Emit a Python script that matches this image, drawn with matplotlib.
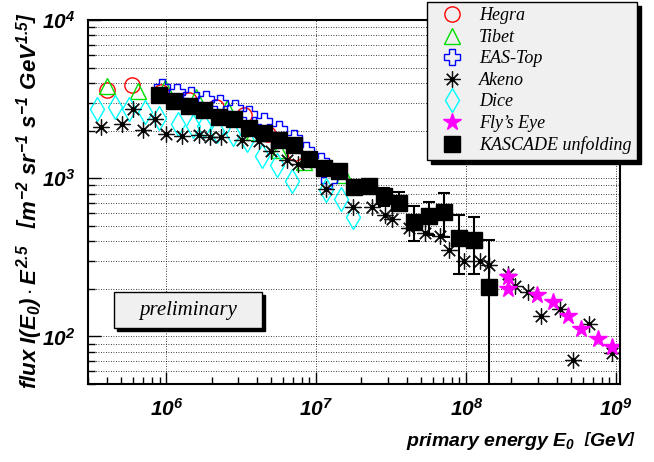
import matplotlib
matplotlib.use("Agg")
import matplotlib.pyplot as plt
from matplotlib.patches import Rectangle
from matplotlib.legend_handler import HandlerTuple
from matplotlib.ticker import LogLocator, NullFormatter

plt.rcParams['font.family'] = ['Liberation Sans', 'DejaVu Sans']
plt.rcParams['mathtext.fontset'] = 'custom'
plt.rcParams['mathtext.rm'] = 'Liberation Sans:italic:bold'
plt.rcParams['mathtext.it'] = 'Liberation Sans:italic:bold'
plt.rcParams['mathtext.bf'] = 'Liberation Sans:italic:bold'

# KASCADE unfolding
kas_e = [8.9e5, 1.12e6, 1.41e6, 1.78e6, 2.24e6, 2.82e6, 3.55e6, 4.47e6, 5.62e6, 7.08e6,
         8.91e6, 1.12e7, 1.41e7, 1.78e7, 2.24e7, 2.82e7, 3.55e7, 4.47e7, 5.62e7, 7.08e7,
         8.91e7, 1.12e8, 1.41e8]
kas_f = [3365, 3055, 2878, 2704, 2453, 2371, 2071, 1943, 1747, 1625,
         1319, 1157, 1117, 885, 894, 773, 701, 531, 580, 615,
         417, 406, 206]
kas_lo = [0, 0, 0, 0, 0, 0, 0, 0, 0, 0, 0, 0, 0, 0, 0, 105, 71, 128, 143, 189, 169, 158, 205.9]
kas_hi = [0, 0, 0, 0, 0, 0, 0, 0, 0, 0, 0, 0, 0, 0, 0, 99, 121, 137, 125, 196, 169, 159, 200]

# Akeno
ake_e = [3.69e5, 5.02e5, 6.00e5, 7.03e5, 8.39e5, 1.0e6, 1.28e6, 1.66e6, 1.96e6, 2.31e6,
         3.20e6, 4.16e6, 4.97e6, 6.38e6, 7.55e6, 1.155e7, 1.75e7, 2.34e7, 2.86e7, 3.18e7,
         4.18e7, 5.29e7, 6.73e7, 7.70e7, 9.61e7, 1.24e8, 1.42e8, 1.89e8, 2.12e8, 2.57e8,
         3.16e8, 4.20e8, 5.18e8, 6.59e8, 9.42e8]
ake_f = [2112, 2197, 2734, 2022, 2357, 1893, 1839, 1866, 1818, 1818,
         1747, 1730, 1489, 1306, 1232, 855, 661, 661, 586, 553,
         483, 449, 430, 352, 300, 300, 281, 248, 209, 190,
         134, 150, 70.8, 120, 78]

# Fly's Eye
fly_e = [1.89e8, 1.89e8, 2.95e8, 3.78e8, 4.75e8, 5.83e8, 7.52e8, 9.42e8]
fly_f = [236, 198, 183, 166, 134, 112, 95.7, 85.2]

# Dice
dice_e = [3.47e5, 4.51e5, 5.67e5, 7.25e5, 8.91e5, 1.20e6, 1.50e6, 1.79e6, 2.17e6, 2.76e6,
          3.47e6, 4.33e6, 5.50e6, 6.84e6, 1.16e7, 1.47e7, 1.75e7]
dice_f = [2754, 2806, 2757, 2620, 2397, 2216, 2134, 2143, 2001, 1907,
          1747, 1378, 1214, 961, 839, 740, 567]

# EAS-Top
eas_e = [9.41e5, 1.18e6, 1.47e6, 1.85e6, 2.29e6, 2.88e6, 3.57e6, 4.49e6, 5.65e6, 7.11e6,
         8.54e6, 1.075e7, 1.215e7]
eas_f = [3783, 3517, 3367, 3176, 2997, 2786, 2553, 2305, 2051, 1799, 1511, 1287, 975]

# Hegra
heg_e = [3.99e5, 5.94e5, 9.26e5, 1.42e6, 2.15e6, 3.30e6, 4.77e6, 7.22e6]
heg_f = [3622, 3895, 3517, 3130, 2827, 2515, 1907, 1446]

# Tibet
tib_e = [3.99e5, 6.51e5, 9.85e5, 1.58e6, 2.55e6, 3.85e6, 5.65e6, 8.28e6, 1.53e7]
tib_f = [3838, 3568, 3727, 3269, 2786, 1963, 1511, 1268, 1049]

fig = plt.figure(figsize=(6.54, 4.62), dpi=100)
ax = fig.add_axes([88/654, 1-384/462, 532/654, 364/462])
ax.set_xscale('log')
ax.set_yscale('log')
ax.set_xlim(3.0e5, 1.06e9)
ax.set_ylim(50, 1e4)

h_heg, = ax.plot(heg_e, heg_f, ls='none', marker='o', ms=11, mfc='none', mec='#ff0000', mew=1)
h_tib, = ax.plot(tib_e, tib_f, ls='none', marker='^', ms=11, mfc='none', mec='#00dd00', mew=1)
h_eas, = ax.plot(eas_e, eas_f, ls='none', marker='P', ms=11, mfc='none', mec='#0000ff', mew=1)
h_dice, = ax.plot(dice_e, dice_f, ls='none', marker='d', ms=12, mfc='none', mec='#00ffff', mew=1)
h_ake, = ax.plot(ake_e, ake_f, ls='none', marker=(8, 2, 0), ms=11.5, mec='#111111', mew=0.9)
h_aked, = ax.plot(ake_e, ake_f, ls='none', marker='o', ms=2.5, mfc='black', mec='black')
h_fly, = ax.plot(fly_e, fly_f, ls='none', marker='*', ms=13, mfc='#ff00ff', mec='#ff00ff')
ax.errorbar(kas_e, kas_f, yerr=[kas_lo, kas_hi], fmt='none', ecolor='black', elinewidth=1.5,
            capsize=4, capthick=1.5, zorder=4)
h_kas, = ax.plot(kas_e, kas_f, ls='none', marker='s', ms=11, mfc='black', mec='black', zorder=5)

ax.set_xticks([1e6, 1e7, 1e8, 1e9], labels=[r'$10^{6}$', r'$10^{7}$', r'$10^{8}$', r'$10^{9}$'])
ax.set_yticks([1e2, 1e3, 1e4], labels=[r'$10^{2}$', r'$10^{3}$', r'$10^{4}$'])
ax.xaxis.set_minor_locator(LogLocator(base=10, subs=range(2, 10)))
ax.yaxis.set_minor_locator(LogLocator(base=10, subs=range(2, 10)))
ax.xaxis.set_minor_formatter(NullFormatter())
ax.yaxis.set_minor_formatter(NullFormatter())
ax.tick_params(which='both', direction='in', top=False, right=False, width=1)
ax.tick_params(which='major', length=9, labelsize=15)
ax.tick_params(which='minor', length=5)
ax.tick_params(axis='x', which='major', pad=10)
ax.tick_params(axis='y', which='major', pad=9)

ax.set_axisbelow(True)
ax.yaxis.grid(True, which='both', ls=(0, (1, 2)), color='black', lw=0.6)
ax.xaxis.grid(True, which='major', ls=(0, (1, 2)), color='black', lw=0.6)
for sp in ax.spines.values():
    sp.set_linewidth(1.5)

fig.text(30/654, 1-200/462,
         r'flux $I(E_0)\cdot E^{2.5}$   $\left[m^{-2}\ sr^{-1}\ s^{-1}\ GeV^{1.5}\right]$',
         rotation=90, ha='center', va='center', fontsize=16, fontweight='bold', fontstyle='italic')
fig.text(636/654, 1-441/462, r'primary energy $E_0$  $\left[GeV\right]$',
         ha='right', va='center', fontsize=14, fontweight='bold', fontstyle='italic')

leg = ax.legend([h_heg, h_tib, h_eas, (h_ake, h_aked), h_dice, h_fly, h_kas],
                ['Hegra', 'Tibet', 'EAS-Top', 'Akeno', 'Dice', "Fly\u2019s Eye", 'KASCADE unfolding'],
                handler_map={tuple: HandlerTuple(ndivide=1)},
                loc='upper right', bbox_to_anchor=(637/654, 1-2/462), bbox_transform=fig.transFigure,
                prop={'family': 'Liberation Serif', 'style': 'italic', 'size': 13},
                fancybox=False, framealpha=1, facecolor='#f0f0f0', edgecolor='black',
                borderpad=0.3, labelspacing=0.25, handlelength=2.2, handletextpad=0.4,
                borderaxespad=0, shadow={'ox': 3, 'oy': -3, 'facecolor': 'black',
                                         'edgecolor': 'black', 'alpha': 1})
leg.get_frame().set_linewidth(1)
leg.set_zorder(10)

# preliminary box
fig.patches.append(Rectangle((117/654, 1-331/462), 148/654, 36/462, transform=fig.transFigure,
                             facecolor='black', edgecolor='black', zorder=20))
fig.patches.append(Rectangle((114/654, 1-328/462), 148/654, 36/462, transform=fig.transFigure,
                             facecolor='#f0f0f0', edgecolor='black', lw=1, zorder=21))
fig.text(188/654, 1-310/462, 'preliminary', ha='center', va='center', fontsize=15,
         family='Liberation Serif', style='italic', zorder=22)

fig.savefig('out.png', dpi=100)
